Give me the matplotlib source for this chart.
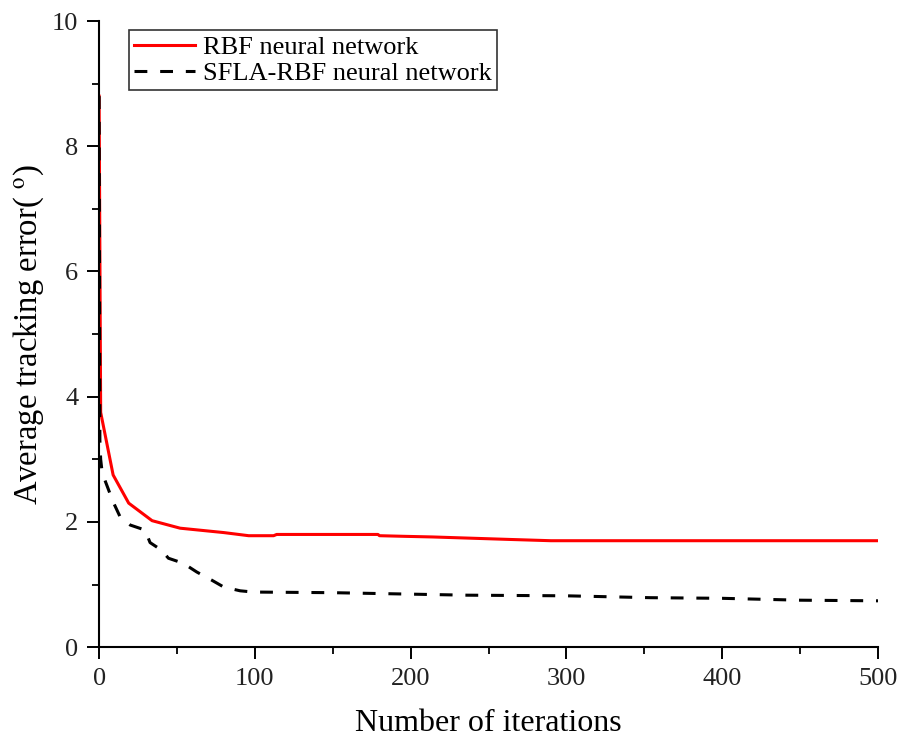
import matplotlib
matplotlib.use('Agg')
import matplotlib.pyplot as plt
from matplotlib.ticker import MultipleLocator

plt.rcParams['font.family'] = ['Liberation Serif', 'DejaVu Serif']
plt.rcParams['mathtext.fontset'] = 'stix'

# data
rbf_x = [0, 1, 9, 19, 34, 52, 80, 96, 112, 114, 179, 180, 196, 214, 239, 264, 290, 500]
rbf_y = [8.8, 3.75, 2.75, 2.30, 2.02, 1.90, 1.83, 1.78, 1.78, 1.80, 1.80, 1.78, 1.77, 1.76, 1.74, 1.72, 1.70, 1.70]

sfla_x = [0, 0.5, 1, 2, 9, 13.5, 20, 29.5, 32.7, 40, 44.5, 54, 62.7, 72.3, 80, 90.5, 99,
          150, 236, 300, 354, 400, 450, 500]
sfla_y = [8.8, 3.3, 3.0, 2.78, 2.32, 2.08, 1.95, 1.87, 1.67, 1.55, 1.42, 1.34, 1.20, 1.07, 0.96, 0.90, 0.88,
          0.87, 0.83, 0.82, 0.79, 0.78, 0.75, 0.74]

fig = plt.figure(figsize=(9.01, 7.43), dpi=100)
ax = fig.add_axes([0.110, 0.129, 0.8645, 0.8427])

ax.plot(rbf_x, rbf_y, color='#ff0000', lw=2.2, label='RBF neural network')
ax.plot(sfla_x, sfla_y, color='black', lw=2.2, dashes=(4.2, 4.2), label='SFLA-RBF neural network')

ax.set_xlim(0, 500)
ax.set_ylim(0, 10)
ax.xaxis.set_major_locator(MultipleLocator(100))
ax.xaxis.set_minor_locator(MultipleLocator(50))
ax.yaxis.set_major_locator(MultipleLocator(2))
ax.yaxis.set_minor_locator(MultipleLocator(1))
ax.tick_params(which='major', direction='out', length=8.5, width=1.4, labelsize=19, pad=6.5,
               labelcolor='#222222')
ax.tick_params(which='minor', direction='out', length=5, width=1.3)

for s in ['top', 'right']:
    ax.spines[s].set_visible(False)
for s in ['left', 'bottom']:
    ax.spines[s].set_linewidth(1.5)

ax.set_xlabel('Number of iterations', fontsize=23, labelpad=14)
ax.set_ylabel(r'Average tracking error( $^{\mathrm{o}}$)', fontsize=23.5, labelpad=4)

leg = ax.legend(loc='upper left', bbox_to_anchor=(0.0385, 0.9856), borderaxespad=0, fontsize=19,
                frameon=True, fancybox=False, edgecolor='black', handlelength=2.3, borderpad=0.2,
                labelspacing=0.1, handletextpad=0.3)
leg.get_frame().set_linewidth(1.2)

fig.savefig('out.png', dpi=100)
